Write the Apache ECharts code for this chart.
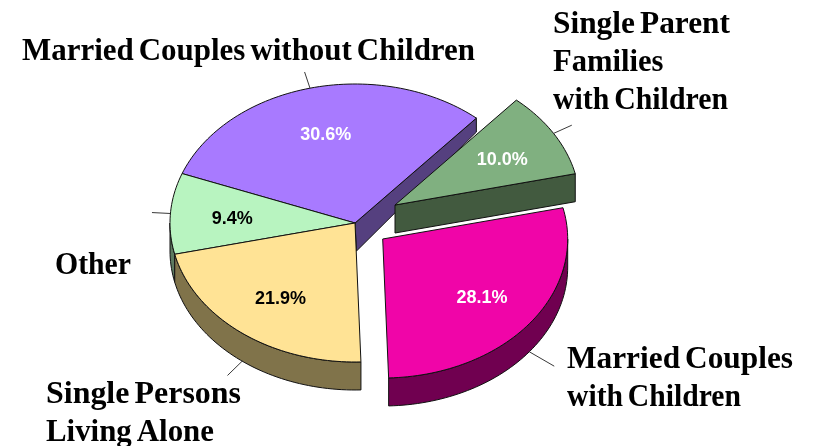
<!DOCTYPE html>
<html><head><meta charset="utf-8">
<style>html,body{margin:0;padding:0;background:#fff}#c{width:815px;height:446px}</style>
<script src="https://cdn.jsdelivr.net/npm/echarts@6/dist/echarts.min.js"></script>
</head><body><div id="c"></div>
<script>
// Data
const categories = ['Married Couples without Children','Other','Single Persons\nLiving Alone','Married Couples\nwith Children','Single Parent\nFamilies\nwith Children'];
const shares = [30.6, 9.4, 21.9, 28.1, 10.0];
const startAngle = 49.0;
// Styles and layout
const topColors = ['#a87aff','#b8f4c0','#ffe395','#f005a8','#80b080'];
const wallColors = ['#55407f','#5c7a60','#80734a','#700050','#425a3f'];
const pctColors = ['#fff','#000','#000','#fff','#fff'];
const explodeX = [0,0,0,27.7,40];
const explodeY = [0,0,0,16,-18];
const labelX = [22,55,46,567,553];
const labelY = [50,264,393,358,23];
const labelWidths = [[453],[76],[195,168],[226,174],[177,110.5,175]];
const leaderLen = [.12,.1,.13,.17,.115];
const LINE_H=38, WORD_GAP=5, LABEL_FONT='bold 31px "Liberation Serif"', PCT_FONT='bold 18px "Liberation Sans"';
const CX=355, CY=223, RX=185, RY=139, DEPTH=28;
const PURPLE_END_DEPTH=14;
const STROKE='#111';

const ctx=document.createElement('canvas').getContext('2d');
ctx.font=LABEL_FONT;
const total = shares.reduce((a,b)=>a+b,0);
function pt(cx,cy,deg,f,dy){const t=deg*Math.PI/180;return [cx+RX*f*Math.cos(t),cy-RY*f*Math.sin(t)+(dy||0)];}
function arc(cx,cy,a,b,dy){const n=Math.max(2,Math.ceil(Math.abs(b-a)/1.5));const o=[];for(let i=0;i<=n;i++)o.push(pt(cx,cy,a+(b-a)*i/n,1,dy));return o;}

function renderItem(params,api){
  const i=params.dataIndex;
  let cum=0;for(let k=0;k<i;k++)cum+=shares[k];
  const val=api.value(0);
  const a=startAngle+cum/total*360, b=a+val/total*360, mid=(a+b)/2;
  const cx=CX+explodeX[i], cy=CY+explodeY[i];
  const kids=[];
  const poly=(points,fill,z)=>kids.push({type:'polygon',shape:{points},style:{fill,stroke:STROKE,lineWidth:1,lineJoin:'round'},z2:z});
  if(i===0||i===4){
    const apex=[cx,cy], rim=pt(cx,cy,a,1);
    const d2=i===0?PURPLE_END_DEPTH:DEPTH;
    poly([apex,rim,[rim[0],rim[1]+d2],[apex[0]+(i===0?1.5:0),apex[1]+DEPTH]],wallColors[i],1);
  }
  const ranges=[];
  [[180,360],[540,720]].forEach(r=>{const lo=Math.max(a,r[0]),hi=Math.min(b,r[1]);if(hi>lo)ranges.push([lo,hi]);});
  ranges.forEach(r=>{poly(arc(cx,cy,r[0],r[1],0).concat(arc(cx,cy,r[1],r[0],DEPTH)),wallColors[i],1);});
  poly([[cx,cy]].concat(arc(cx,cy,a,b,0)),topColors[i],2);
  const midRad=mid*Math.PI/180;
  const front=Math.sin(midRad)<0;
  const p0=pt(cx,cy,mid,1,front?DEPTH:0), k=leaderLen[i];
  const p1=[p0[0]+RX*k*Math.cos(midRad),p0[1]-RY*k*Math.sin(midRad)];
  kids.push({type:'line',shape:{x1:p0[0],y1:p0[1],x2:p1[0],y2:p1[1]},style:{stroke:'#222',lineWidth:0.9},z2:3});
  const lp=pt(cx,cy,mid,.67);
  kids.push({type:'text',x:lp[0]+1,y:lp[1]+2.5,style:{text:val.toFixed(1)+'%',fill:pctColors[i],font:PCT_FONT,align:'center',verticalAlign:'middle'},z2:5});
  categories[i].split('\n').forEach((line,li)=>{
    const words=line.split(' ');
    const ws=words.map(w=>ctx.measureText(w).width);
    const natural=ws.reduce((p,q)=>p+q,0)+WORD_GAP*(words.length-1);
    const s=labelWidths[i][li]/natural;
    let off=0;
    words.forEach((w,wi)=>{
      kids.push({type:'text',x:labelX[i]+off*s,y:labelY[i]+li*LINE_H+2,scaleX:s,style:{text:w,fill:'#000',font:LABEL_FONT,align:'left',verticalAlign:'middle'},z2:5});
      off+=ws[wi]+WORD_GAP;
    });
  });
  return {type:'group',children:kids};
}
const chart=echarts.init(document.getElementById('c'),null,{renderer:'canvas'});
chart.setOption({animation:false,backgroundColor:'#fff',series:[{type:'custom',coordinateSystem:'none',clip:false,silent:true,renderItem,data:shares.map(v=>[v])}]});
</script></body></html>
